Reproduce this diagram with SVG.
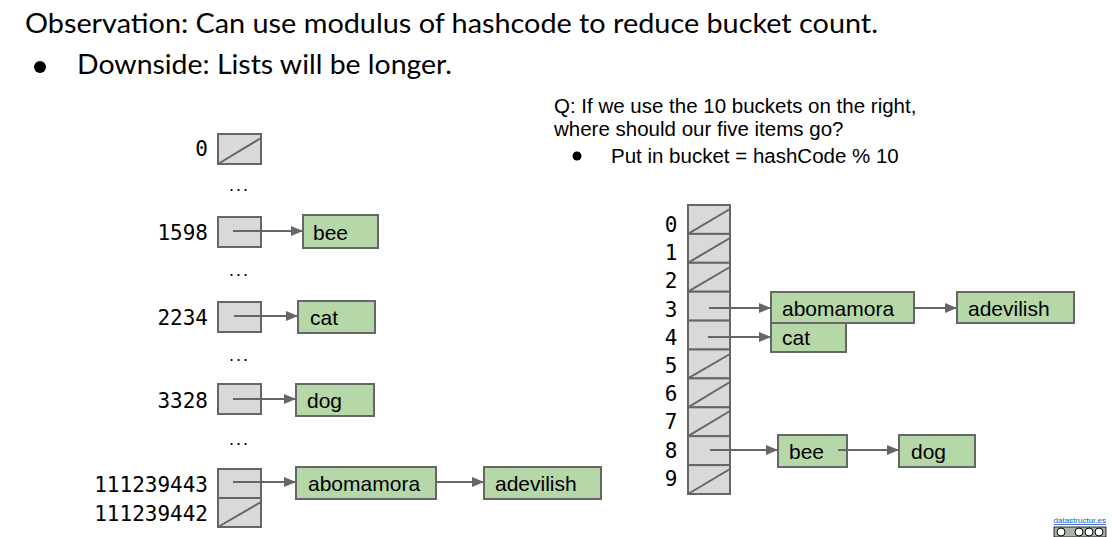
<svg xmlns="http://www.w3.org/2000/svg" width="1112" height="537" viewBox="0 0 1112 537">
<defs>
<marker id="ah" viewBox="0 0 12 10" refX="12" refY="5" markerWidth="12" markerHeight="10" markerUnits="userSpaceOnUse" orient="auto">
<path d="M0,0 L12,5 L0,10 Z" fill="#666666"/>
</marker>
<style>
.cell{fill:#d9d9d9;stroke:#666666;stroke-width:2}
.nul{stroke:#666666;stroke-width:2;fill:none}
.item{fill:#b6d7a8;stroke:#666666;stroke-width:2}
.it{font-family:"Liberation Sans",Arial,sans-serif;font-size:21px;fill:#000}
.lbl{font-family:"DejaVu Sans Mono",monospace;font-size:21px;fill:#000}
.q{font-family:"Liberation Sans",Arial,sans-serif;font-size:20.5px;fill:#000}
.big{font-family:Lato,"Open Sans",sans-serif;font-size:26px;fill:#000}
.dots{font-family:"Liberation Sans",Arial,sans-serif;font-size:18px;fill:#000;letter-spacing:2px}
.arr{stroke:#666666;stroke-width:2;fill:none;marker-end:url(#ah)}
</style>
</defs>
<rect width="1112" height="537" fill="#ffffff"/>

<g id="header">
<text class="big" x="25" y="33" textLength="853" lengthAdjust="spacingAndGlyphs">Observation: Can use modulus of hashcode to reduce bucket count.</text>
<circle cx="40" cy="67" r="6" fill="#000"/>
<text class="big" x="77" y="74" textLength="375" lengthAdjust="spacingAndGlyphs">Downside: Lists will be longer.</text>
</g>

<g id="question">
<text class="q" x="554" y="113">Q: If we use the 10 buckets on the right,</text>
<text class="q" x="554" y="136">where should our five items go?</text>
<circle cx="577" cy="156" r="4.5" fill="#000"/>
<text class="q" x="611" y="163">Put in bucket = hashCode % 10</text>
</g>

<g id="left-buckets">
<g id="lb-0">
<text class="lbl" x="208" y="156" text-anchor="end">0</text>
<rect class="cell" x="218" y="134" width="43" height="30"/>
<line class="nul" x1="218" y1="164" x2="261" y2="138"/>
</g>
<text class="dots" x="229" y="191">...</text>
<g id="lb-1598">
<text class="lbl" x="208" y="240" text-anchor="end">1598</text>
<rect class="cell" x="218" y="217" width="43" height="30"/>
</g>
<text class="dots" x="229" y="276">...</text>
<g id="lb-2234">
<text class="lbl" x="208" y="325" text-anchor="end">2234</text>
<rect class="cell" x="218" y="302" width="43" height="30"/>
</g>
<text class="dots" x="229" y="361">...</text>
<g id="lb-3328">
<text class="lbl" x="208" y="408" text-anchor="end">3328</text>
<rect class="cell" x="218" y="384" width="43" height="30"/>
</g>
<text class="dots" x="229" y="445">...</text>
<g id="lb-111239443">
<text class="lbl" x="208" y="492" text-anchor="end">111239443</text>
<rect class="cell" x="218" y="469" width="43" height="29"/>
</g>
<g id="lb-111239442">
<text class="lbl" x="208" y="521" text-anchor="end">111239442</text>
<rect class="cell" x="218" y="498" width="43" height="29"/>
<line class="nul" x1="218" y1="527" x2="261" y2="502"/>
</g>
</g>

<g id="left-items">
<g id="l-bee"><rect class="item" x="303" y="215" width="75" height="33"/><text class="it" x="313" y="240">bee</text></g>
<g id="l-cat"><rect class="item" x="298" y="301" width="77" height="32"/><text class="it" x="310" y="325">cat</text></g>
<g id="l-dog"><rect class="item" x="296" y="384" width="78" height="32"/><text class="it" x="307" y="408">dog</text></g>
<g id="l-abomamora"><rect class="item" x="296" y="467" width="140" height="32"/><text class="it" x="308" y="491">abomamora</text></g>
<g id="l-adevilish"><rect class="item" x="484" y="467" width="117" height="32"/><text class="it" x="495" y="491">adevilish</text></g>
</g>

<g id="right-buckets">
<g id="rb-cells">
<rect class="cell" x="688" y="205" width="42" height="28.9"/>
<rect class="cell" x="688" y="233.9" width="42" height="28.9"/>
<rect class="cell" x="688" y="262.8" width="42" height="28.9"/>
<rect class="cell" x="688" y="291.7" width="42" height="28.9"/>
<rect class="cell" x="688" y="320.6" width="42" height="28.9"/>
<rect class="cell" x="688" y="349.5" width="42" height="28.9"/>
<rect class="cell" x="688" y="378.4" width="42" height="28.9"/>
<rect class="cell" x="688" y="407.3" width="42" height="28.9"/>
<rect class="cell" x="688" y="436.2" width="42" height="28.9"/>
<rect class="cell" x="688" y="465.1" width="42" height="28.9"/>
<line class="nul" x1="688" y1="233.9" x2="730" y2="209"/>
<line class="nul" x1="688" y1="262.8" x2="730" y2="238"/>
<line class="nul" x1="688" y1="291.7" x2="730" y2="267"/>
<line class="nul" x1="688" y1="378.4" x2="730" y2="354"/>
<line class="nul" x1="688" y1="407.3" x2="730" y2="382"/>
<line class="nul" x1="688" y1="436.2" x2="730" y2="411"/>
<line class="nul" x1="688" y1="494" x2="730" y2="469"/>
</g>
<g id="rb-labels">
<text class="lbl" x="671" y="232" text-anchor="middle">0</text>
<text class="lbl" x="671" y="260" text-anchor="middle">1</text>
<text class="lbl" x="671" y="288" text-anchor="middle">2</text>
<text class="lbl" x="671" y="317" text-anchor="middle">3</text>
<text class="lbl" x="671" y="345" text-anchor="middle">4</text>
<text class="lbl" x="671" y="373" text-anchor="middle">5</text>
<text class="lbl" x="671" y="401" text-anchor="middle">6</text>
<text class="lbl" x="671" y="429" text-anchor="middle">7</text>
<text class="lbl" x="671" y="458" text-anchor="middle">8</text>
<text class="lbl" x="671" y="486" text-anchor="middle">9</text>
</g>
</g>

<g id="right-items">
<g id="r-abomamora"><rect class="item" x="771" y="292" width="143" height="31"/><text class="it" x="782" y="316">abomamora</text></g>
<g id="r-adevilish"><rect class="item" x="957" y="292" width="117" height="31"/><text class="it" x="968" y="316">adevilish</text></g>
<g id="r-cat"><rect class="item" x="771" y="323" width="75" height="29"/><text class="it" x="782" y="345">cat</text></g>
<g id="r-bee"><rect class="item" x="778" y="435" width="69" height="32"/><text class="it" x="789" y="459">bee</text></g>
<g id="r-dog"><rect class="item" x="899" y="435" width="76" height="32"/><text class="it" x="911" y="459">dog</text></g>
</g>

<g id="connectors">
<line class="arr" x1="233" y1="231" x2="303" y2="231"/>
<line class="arr" x1="234" y1="316" x2="298" y2="316"/>
<line class="arr" x1="233" y1="399" x2="296" y2="399"/>
<line class="arr" x1="233" y1="482" x2="296" y2="482"/>
<line class="arr" x1="436" y1="482" x2="484" y2="482"/>
<line class="arr" x1="709" y1="308" x2="771" y2="308"/>
<line class="arr" x1="914" y1="308" x2="957" y2="308"/>
<line class="arr" x1="708" y1="337" x2="771" y2="337"/>
<line class="arr" x1="710" y1="450" x2="778" y2="450"/>
<line class="arr" x1="838" y1="450" x2="899" y2="450"/>
</g>

<g id="footer">
<text x="1106" y="523" text-anchor="end" font-family="'Liberation Sans',Arial,sans-serif" font-size="8" fill="#1155cc" text-decoration="underline">datastructur.es</text>
<rect x="1054" y="527" width="52" height="10" fill="#aab2ab" stroke="#000" stroke-width="0.8"/>
<circle cx="1061" cy="532" r="4" fill="#fff" stroke="#000" stroke-width="1"/>
<circle cx="1079" cy="532" r="4" fill="#fff" stroke="#000" stroke-width="1"/>
<circle cx="1089" cy="532" r="4" fill="#fff" stroke="#000" stroke-width="1"/>
<circle cx="1099" cy="532" r="4" fill="#fff" stroke="#000" stroke-width="1"/>
</g>
</svg>
